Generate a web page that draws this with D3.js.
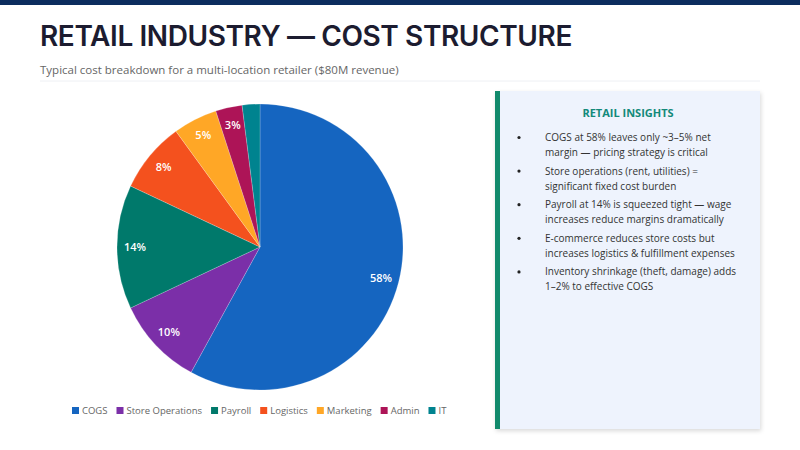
<!DOCTYPE html>
<html>
<head>
<meta charset="utf-8">
<script src="https://cdn.jsdelivr.net/npm/d3@7"></script>
<style>
  body { margin: 0; background: #fff; }
  svg { display: block; }
</style>
</head>
<body>
<script>
// cost shares, % of revenue
const categories = ["COGS", "Store Operations", "Payroll", "Logistics", "Marketing", "Admin", "IT"];
const shares = [58, 10, 14, 8, 5, 3, 2];
const colors = ["#1565c0", "#7b2fa8", "#00796b", "#f4511e", "#ffa726", "#ad1457", "#00838f"];

const insights = [
  ["COGS at 58% leaves only ~3\u20135% net", "margin \u2014 pricing strategy is critical"],
  ["Store operations (rent, utilities) =", "significant fixed cost burden"],
  ["Payroll at 14% is squeezed tight \u2014 wage", "increases reduce margins dramatically"],
  ["E-commerce reduces store costs but", "increases logistics & fulfillment expenses"],
  ["Inventory shrinkage (theft, damage) adds", "1\u20132% to effective COGS"]
];

const W = 800, H = 450;
const svg = d3.select("body").append("svg").attr("width", W).attr("height", H);

const defs = svg.append("defs");
const shadow = defs.append("filter").attr("id", "shadow")
  .attr("x", "-5%").attr("y", "-5%").attr("width", "115%").attr("height", "115%");
shadow.append("feDropShadow").attr("dx", 1).attr("dy", 2).attr("stdDeviation", 2)
  .attr("flood-color", "#000").attr("flood-opacity", 0.15);

// header
svg.append("rect").attr("width", W).attr("height", 5).attr("fill", "#0c2d5e");
svg.append("text").attr("x", 40).attr("y", 46)
  .attr("font-family", "Inter, sans-serif").attr("font-weight", 600)
  .attr("font-size", 28).attr("letter-spacing", -0.4).attr("fill", "#1c1c30")
  .text("RETAIL INDUSTRY \u2014 COST STRUCTURE");
svg.append("text").attr("x", 40).attr("y", 74)
  .attr("font-family", "'Open Sans', sans-serif").attr("font-size", 11.5).attr("fill", "#666")
  .text("Typical cost breakdown for a multi-location retailer ($80M revenue)");
svg.append("line").attr("x1", 40).attr("x2", 760).attr("y1", 81).attr("y2", 81)
  .attr("stroke", "#eef0f4").attr("stroke-width", 1);

// pie
const cx = 260, cy = 247, radius = 143;
const data = categories.map((c, i) => ({ name: c, value: shares[i], color: colors[i] }));

const pie = d3.pie().value(d => d.value).sort(null);
const arc = d3.arc().innerRadius(0).outerRadius(radius);
const labelArc = d3.arc().innerRadius(125).outerRadius(125);

const g = svg.append("g").attr("transform", `translate(${cx},${cy})`);
const arcs = pie(data);

g.selectAll("path")
  .data(arcs)
  .join("path")
  .attr("d", arc)
  .attr("fill", d => d.data.color)
  .attr("stroke", "#fff")
  .attr("stroke-opacity", 0.4)
  .attr("stroke-width", 0.5);

g.selectAll("text")
  .data(arcs.filter(d => d.data.value >= 3))
  .join("text")
  .attr("transform", d => `translate(${labelArc.centroid(d)})`)
  .attr("text-anchor", "middle")
  .attr("dy", "0.35em")
  .attr("font-family", "'Open Sans', sans-serif")
  .attr("font-weight", 600)
  .attr("font-size", 11)
  .attr("fill", "#fff")
  .text(d => d.data.value + "%");

// legend
const legend = svg.append("g").attr("transform", "translate(72,411)");
let lx = 0;
categories.forEach((c, i) => {
  const item = legend.append("g").attr("transform", `translate(${lx},0)`);
  item.append("rect").attr("x", 0).attr("y", -4).attr("width", 7).attr("height", 7).attr("fill", colors[i]);
  const t = item.append("text").attr("x", 10).attr("y", 0).attr("dy", "0.35em")
    .attr("font-family", "'Open Sans', sans-serif").attr("font-size", 9.5).attr("fill", "#666")
    .text(c);
  lx += 10 + t.node().getComputedTextLength() + 9;
});

// insights panel
const px = 495, py = 91, pw = 265, ph = 338;
svg.append("rect").attr("x", px).attr("y", py).attr("width", pw).attr("height", ph)
  .attr("fill", "#eef3fd").attr("filter", "url(#shadow)");
svg.append("rect").attr("x", px).attr("y", py).attr("width", 5).attr("height", ph).attr("fill", "#128a6c");

svg.append("text").attr("x", 628).attr("y", 117).attr("text-anchor", "middle")
  .attr("font-family", "'Open Sans', sans-serif").attr("font-weight", 700)
  .attr("font-size", 11).attr("fill", "#13897a")
  .text("RETAIL INSIGHTS");

const bullets = svg.append("g").attr("font-family", "'Open Sans', sans-serif")
  .attr("font-size", 10).attr("fill", "#333");
insights.forEach((lines, i) => {
  const y0 = 141 + i * 33.6;
  bullets.append("circle").attr("cx", 519).attr("cy", y0 - 3.5).attr("r", 1.6).attr("fill", "#222");
  lines.forEach((ln, j) => {
    bullets.append("text").attr("x", 545).attr("y", y0 + j * 15).text(ln);
  });
});
</script>
</body>
</html>
